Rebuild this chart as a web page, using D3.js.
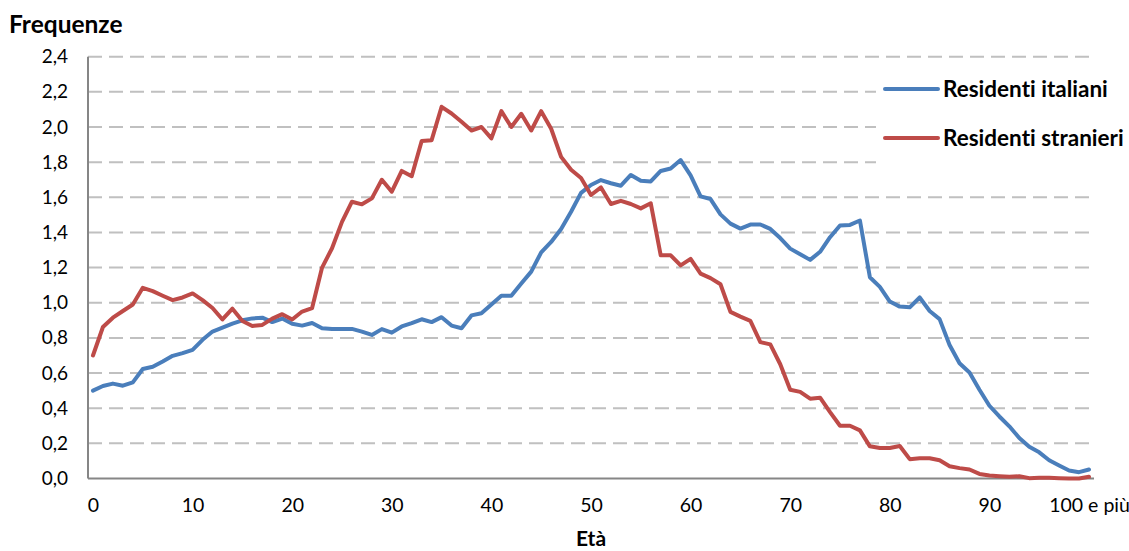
<!DOCTYPE html>
<html>
<head>
<meta charset="utf-8">
<script src="https://cdn.jsdelivr.net/npm/d3@7"></script>
<style>
  body { margin: 0; background: #fff; }
  text { font-family: Lato, "Open Sans", sans-serif; fill: #000; font-variant-ligatures: none; }
</style>
</head>
<body>
<div id="chart"></div>
<script>
// Età 0..100 (l'ultima classe è "100 e più")
const ages = d3.range(0, 101);
const xTickLabels = ["0", "10", "20", "30", "40", "50", "60", "70", "80", "90", "100 e più"];
const yTicks = [0, 0.2, 0.4, 0.6, 0.8, 1.0, 1.2, 1.4, 1.6, 1.8, 2.0, 2.2, 2.4];
const seriesNames = ["Residenti italiani", "Residenti stranieri"];

// Frequenze (%) per età
const italiani = [
  0.50, 0.526, 0.54, 0.528, 0.547, 0.623, 0.636, 0.666, 0.698, 0.713,
  0.732, 0.789, 0.836, 0.858, 0.881, 0.90, 0.911, 0.915, 0.89, 0.91,
  0.88, 0.87, 0.885, 0.855, 0.85, 0.85, 0.851, 0.836, 0.817, 0.85,
  0.83, 0.865, 0.884, 0.906, 0.89, 0.918, 0.87, 0.855, 0.928, 0.94,
  0.99, 1.04, 1.04, 1.11, 1.177, 1.287, 1.346, 1.42, 1.518, 1.625,
  1.67, 1.698, 1.68, 1.666, 1.727, 1.694, 1.69, 1.75, 1.764, 1.812,
  1.725, 1.605, 1.59, 1.503, 1.45, 1.422, 1.445, 1.445, 1.42, 1.368,
  1.308, 1.276, 1.244, 1.29, 1.373, 1.44, 1.443, 1.468, 1.145, 1.09,
  1.007, 0.978, 0.974, 1.03, 0.953, 0.907, 0.76, 0.656, 0.603, 0.505,
  0.414, 0.353, 0.297, 0.23, 0.18, 0.149, 0.104, 0.074, 0.045, 0.036,
  0.051
];
const stranieri = [
  0.70, 0.862, 0.915, 0.953, 0.99, 1.085, 1.066, 1.04, 1.015, 1.03,
  1.053, 1.015, 0.97, 0.905, 0.966, 0.896, 0.868, 0.874, 0.91, 0.935,
  0.905, 0.95, 0.97, 1.20, 1.31, 1.46, 1.575, 1.56, 1.594, 1.70,
  1.632, 1.75, 1.72, 1.92, 1.925, 2.115, 2.077, 2.03, 1.98, 2.0,
  1.935, 2.09, 2.0, 2.075, 1.98, 2.09, 1.99, 1.83, 1.757, 1.71,
  1.613, 1.656, 1.562, 1.58, 1.562, 1.537, 1.566, 1.27, 1.27, 1.213,
  1.25, 1.166, 1.14, 1.105, 0.948, 0.921, 0.897, 0.776, 0.763, 0.65,
  0.505, 0.493, 0.454, 0.46, 0.378, 0.30, 0.30, 0.274, 0.183, 0.174,
  0.174, 0.185, 0.11, 0.115, 0.115, 0.104, 0.07, 0.059, 0.051, 0.026,
  0.017, 0.013, 0.01, 0.013, 0.002, 0.004, 0.004, 0.002, 0.0, 0.0,
  0.01
];

const colors = ["#4a7ebb", "#be4b48"];

const W = 1129, H = 551;
const plot = { left: 88, right: 1094, top: 56.7, bottom: 478.5 };

const svg = d3.select("#chart")
    .append("svg")
    .attr("width", W)
    .attr("height", H);

const x = d3.scalePoint()
    .domain(ages)
    .range([plot.left, plot.right])
    .padding(0.5);

const y = d3.scaleLinear()
    .domain([0, 2.4])
    .range([plot.bottom, plot.top]);

// gridlines (dashed)
svg.append("g")
    .selectAll("line")
    .data(yTicks.filter(d => d > 0))
    .enter()
    .append("line")
    .attr("x1", plot.left)
    .attr("x2", plot.right)
    .attr("y1", d => y(d))
    .attr("y2", d => y(d))
    .attr("stroke", "#c0c0c0")
    .attr("stroke-width", 2)
    .attr("stroke-dasharray", "14,7");

// y axis
const yAxis = svg.append("g")
    .attr("transform", `translate(${plot.left},0)`)
    .call(d3.axisLeft(y).tickValues(yTicks).tickSize(0).tickPadding(20)
        .tickFormat(d => d.toFixed(1).replace(".", ",")));
yAxis.select(".domain").remove();
yAxis.selectAll("text")
    .style("font-family", "Lato, sans-serif")
    .style("font-size", "19px")
    .attr("fill", "#000");

// x axis
const xAxis = svg.append("g")
    .attr("transform", `translate(0,${plot.bottom})`)
    .call(d3.axisBottom(x)
        .tickValues(ages.filter(a => a % 10 === 0))
        .tickSize(0).tickPadding(20)
        .tickFormat((d, i) => xTickLabels[i]));
xAxis.select(".domain").remove();
xAxis.selectAll("text")
    .style("font-family", "Lato, sans-serif")
    .style("font-size", "19.5px")
    .attr("fill", "#000");

// axis lines
svg.append("line")
    .attr("x1", plot.left).attr("x2", plot.left)
    .attr("y1", plot.top).attr("y2", plot.bottom)
    .attr("stroke", "#868686").attr("stroke-width", 2);
svg.append("line")
    .attr("x1", plot.left).attr("x2", plot.right)
    .attr("y1", plot.bottom).attr("y2", plot.bottom)
    .attr("stroke", "#868686").attr("stroke-width", 2);

// series lines
const line = d3.line()
    .x((d, i) => x(ages[i]))
    .y(d => y(d));

svg.selectAll(".serie")
    .data([italiani, stranieri])
    .enter()
    .append("path")
    .attr("class", "serie")
    .attr("d", line)
    .attr("fill", "none")
    .attr("stroke", (d, i) => colors[i])
    .attr("stroke-width", 4)
    .attr("stroke-linejoin", "round")
    .attr("stroke-linecap", "round");

// legend (white box covers gridlines)
const legend = svg.append("g");
legend.append("rect")
    .attr("x", 876).attr("y", 66)
    .attr("width", W - 876).attr("height", 104)
    .attr("fill", "#fff");
const items = legend.selectAll(".item")
    .data(seriesNames)
    .enter()
    .append("g")
    .attr("transform", (d, i) => `translate(885,${89 + i * 49})`);
items.append("line")
    .attr("x1", 0).attr("x2", 53)
    .attr("stroke", (d, i) => colors[i])
    .attr("stroke-width", 4)
    .attr("stroke-linecap", "round");
items.append("text")
    .attr("x", 58)
    .attr("dy", "0.35em")
    .style("font-size", "22.5px")
    .style("font-weight", "bold")
    .text(d => d);

// axis titles
svg.append("text")
    .attr("x", 9).attr("y", 33)
    .style("font-size", "24.5px")
    .style("font-weight", "bold")
    .text("Frequenze");

svg.append("text")
    .attr("x", (plot.left + plot.right) / 2)
    .attr("y", 546)
    .attr("text-anchor", "middle")
    .style("font-size", "21px")
    .style("font-weight", "bold")
    .text("Età");
</script>
</body>
</html>
